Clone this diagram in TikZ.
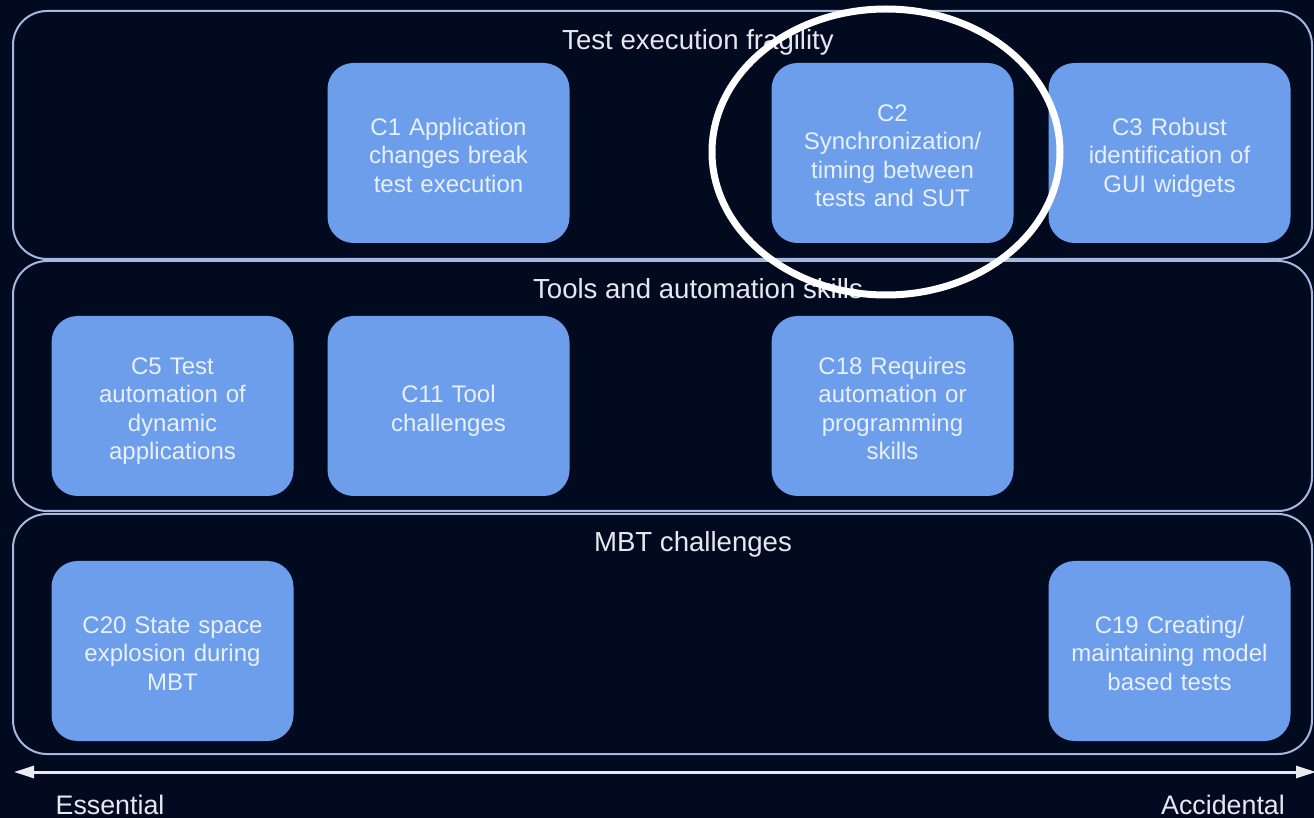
\documentclass[tikz,border=0pt]{standalone}
\usepackage{fontspec}
\setmainfont{Liberation Sans}
\usetikzlibrary{arrows.meta}
\definecolor{bgnavy}{HTML}{020A20}
\definecolor{bandline}{HTML}{A6B8E0}
\definecolor{cardfill}{HTML}{6D9EEB}
\definecolor{cardtext}{HTML}{E8F0FC}
\definecolor{labeltext}{HTML}{E6E8F0}
\tikzset{
  band/.style={draw=bandline, line width=1pt, rounded corners=17pt,
    minimum width=649.5pt, inner sep=0pt, anchor=north west},
  card/.style={fill=cardfill, rounded corners=13pt, minimum width=121pt,
    minimum height=90pt, text width=110pt, align=center, inner sep=0pt,
    text=cardtext, font=\fontsize{12}{14.25}\selectfont,
    % line-box centring: fixed first-line height and last-line depth
    execute at begin node={\rule{0pt}{15.1pt}},
    execute at end node={\rule[-4.3pt]{0pt}{4.3pt}}},
  bandtitle/.style={text=labeltext, anchor=base, inner sep=0pt,
    font=\fontsize{13.8}{16}\selectfont},
  axislabel/.style={text=labeltext, anchor=base, inner sep=0pt,
    font=\fontsize{13.4}{16}\selectfont},
}
\begin{document}
\begin{tikzpicture}[x=0.5pt, y=-0.5pt]
  \fill[bgnavy] (0,0) rectangle (1314,818);
  \useasboundingbox (0,0) rectangle (1314,818);

  % three category bands
  \node[band, minimum height=124pt] (band1) at (12,10) {};
  \node[band, minimum height=125pt] (band2) at (12,260) {};
  \node[band, minimum height=120pt] (band3) at (12,513) {};

  \node[bandtitle] (t1) at (698,50) {Test execution fragility};
  \node[bandtitle] (t2) at (698,299) {Tools and automation skills};
  \node[bandtitle] (t3) at (693,552) {MBT challenges};

  % challenge cards
  \node[card] (c1) at (448.5,153) {C1 Application\\changes break\\test execution};
  \node[card] (c2) at (892.5,153) {C2\\Synchronization/\\timing between\\tests and SUT};
  \node[card] (c3) at (1169.5,153) {C3 Robust\\identification of\\GUI widgets};

  \node[card] (c5) at (172.5,406) {C5 Test\\automation of\\dynamic\\applications};
  \node[card] (c11) at (448.5,406) {C11 Tool\\challenges};
  \node[card] (c18) at (892.5,406) {C18 Requires\\automation or\\programming\\skills};

  \node[card] (c20) at (172.5,651) {C20 State space\\explosion during\\MBT};
  \node[card] (c19) at (1169.5,651) {C19 Creating/\\maintaining model\\based tests};

  % highlight ring around C2
  \draw[white, line width=3.5pt] (886,152) ellipse [x radius=174, y radius=143];

  % essential-accidental axis
  \coordinate (axl) at (14,772);
  \coordinate (axr) at (1316,772);
  \draw[white!92!bgnavy, line width=1.5pt,
    {Triangle[length=10pt,width=6pt]}-{Triangle[length=10pt,width=6pt]}] (axl) -- (axr);

  \node[axislabel] (ess) at (110,814) {Essential};
  \node[axislabel] (acc) at (1223,814) {Accidental};
\end{tikzpicture}
\end{document}
